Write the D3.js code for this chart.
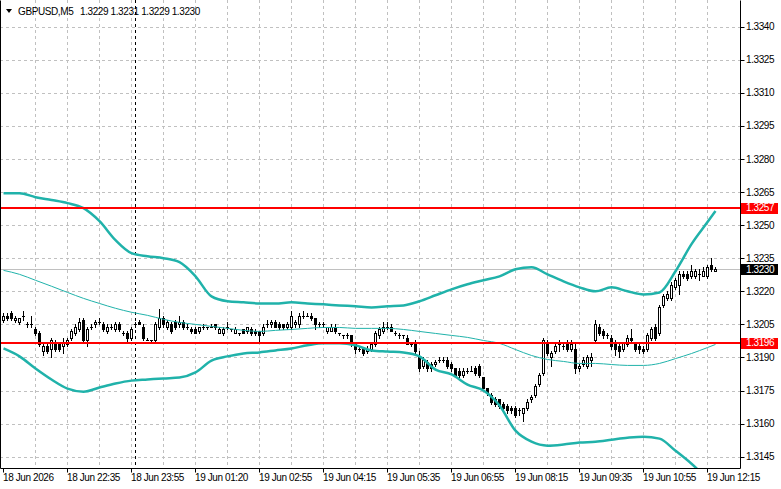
<!DOCTYPE html>
<html lang="en">
<head>
<meta charset="utf-8">
<title>GBPUSD,M5</title>
<script src="https://cdn.jsdelivr.net/npm/d3@7"></script>
<style>
  body { margin: 0; background: #fff; }
  svg text { font-family: "Liberation Sans", Arial, sans-serif; font-size: 10px; letter-spacing: -0.4px; fill: #000; }
</style>
</head>
<body>
<script>
// candles, 5 minute bars, one per index
var opens = [1.3207,1.3209,1.3210,1.3207,1.3206,1.3209,1.3205,1.3205,1.3203,1.3201,1.3193,1.3195,1.3194,1.3197,1.3196,1.3195,1.3196,1.3199,1.3201,1.3203,
  1.3207,1.3198,1.3204,1.3205,1.3206,1.3205,1.3202,1.3204,1.3203,1.3205,1.3201,1.3201,1.3199,1.3205,1.3206,1.3204,1.3198,1.3198,1.3198,1.3204,
  1.3208,1.3204,1.3205,1.3206,1.3205,1.3206,1.3204,1.3203,1.3203,1.3202,1.3204,1.3204,1.3204,1.3205,1.3201,1.3201,1.3204,1.3203,1.3201,1.3201,
  1.3203,1.3202,1.3203,1.3202,1.3202,1.3201,1.3205,1.3205,1.3206,1.3205,1.3205,1.3204,1.3204,1.3205,1.3205,1.3209,1.3209,1.3209,1.3208,1.3205,
  1.3205,1.3202,1.3202,1.3204,1.3201,1.3200,1.3200,1.3200,1.3196,1.3194,1.3194,1.3193,1.3194,1.3196,1.3200,1.3202,1.3204,1.3204,1.3201,1.3200,
  1.3200,1.3199,1.3196,1.3196,1.3190,1.3186,1.3188,1.3187,1.3187,1.3189,1.3189,1.3189,1.3187,1.3185,1.3184,1.3182,1.3184,1.3184,1.3185,1.3186,
  1.3181,1.3176,1.3173,1.3171,1.3171,1.3169,1.3168,1.3167,1.3167,1.3166,1.3165,1.3167,1.3171,1.3173,1.3178,1.3183,1.3196,1.3190,1.3193,1.3196,
  1.3195,1.3196,1.3194,1.3194,1.3185,1.3187,1.3186,1.3189,1.3198,1.3204,1.3202,1.3200,1.3199,1.3197,1.3195,1.3194,1.3196,1.3199,1.3196,1.3195,
  1.3194,1.3194,1.3199,1.3204,1.3201,1.3214,1.3217,1.3217,1.3222,1.3223,1.3228,1.3228,1.3227,1.3227,1.3228,1.3227,1.3227,1.3232,1.3229];
var highs = [1.3210,1.3210,1.3211,1.3209,1.3208,1.3211,1.3206,1.3209,1.3204,1.3202,1.3196,1.3196,1.3199,1.3198,1.3197,1.3199,1.3199,1.3203,1.3205,1.3208,
  1.3208,1.3204,1.3205,1.3207,1.3208,1.3206,1.3205,1.3205,1.3206,1.3206,1.3202,1.3202,1.3204,1.3206,1.3207,1.3205,1.3199,1.3198,1.3206,1.3212,
  1.3209,1.3207,1.3206,1.3207,1.3209,1.3207,1.3205,1.3204,1.3204,1.3204,1.3205,1.3204,1.3205,1.3205,1.3204,1.3204,1.3206,1.3203,1.3204,1.3201,
  1.3203,1.3204,1.3204,1.3203,1.3202,1.3205,1.3207,1.3207,1.3207,1.3206,1.3205,1.3206,1.3211,1.3207,1.3210,1.3211,1.3210,1.3210,1.3208,1.3206,
  1.3206,1.3204,1.3205,1.3205,1.3201,1.3200,1.3201,1.3200,1.3196,1.3195,1.3194,1.3195,1.3196,1.3202,1.3204,1.3206,1.3206,1.3205,1.3202,1.3201,
  1.3200,1.3200,1.3197,1.3198,1.3193,1.3190,1.3189,1.3188,1.3189,1.3190,1.3190,1.3190,1.3188,1.3185,1.3185,1.3185,1.3185,1.3186,1.3186,1.3187,
  1.3181,1.3176,1.3174,1.3172,1.3171,1.3170,1.3169,1.3168,1.3168,1.3167,1.3167,1.3171,1.3173,1.3178,1.3183,1.3199,1.3198,1.3193,1.3196,1.3198,
  1.3197,1.3198,1.3198,1.3196,1.3187,1.3190,1.3191,1.3192,1.3207,1.3205,1.3203,1.3201,1.3200,1.3198,1.3196,1.3197,1.3200,1.3203,1.3197,1.3196,
  1.3195,1.3201,1.3204,1.3205,1.3214,1.3219,1.3220,1.3224,1.3226,1.3229,1.3229,1.3229,1.3232,1.3230,1.3230,1.3231,1.3232,1.3235,1.3231];
var lows = [1.3206,1.3207,1.3207,1.3206,1.3205,1.3207,1.3204,1.3204,1.3200,1.3195,1.3191,1.3192,1.3190,1.3193,1.3193,1.3192,1.3195,1.3198,1.3200,1.3202,
  1.3197,1.3195,1.3203,1.3204,1.3205,1.3202,1.3201,1.3203,1.3202,1.3202,1.3200,1.3197,1.3198,1.3204,1.3205,1.3198,1.3198,1.3197,1.3197,1.3203,
  1.3204,1.3203,1.3201,1.3203,1.3204,1.3203,1.3203,1.3201,1.3201,1.3201,1.3203,1.3203,1.3204,1.3203,1.3201,1.3200,1.3203,1.3202,1.3201,1.3200,
  1.3201,1.3201,1.3200,1.3200,1.3197,1.3200,1.3204,1.3204,1.3204,1.3203,1.3203,1.3203,1.3203,1.3204,1.3204,1.3208,1.3209,1.3207,1.3203,1.3204,
  1.3204,1.3201,1.3202,1.3201,1.3200,1.3199,1.3199,1.3195,1.3192,1.3193,1.3191,1.3192,1.3193,1.3195,1.3199,1.3201,1.3203,1.3202,1.3200,1.3199,
  1.3199,1.3196,1.3195,1.3192,1.3184,1.3185,1.3184,1.3184,1.3186,1.3188,1.3188,1.3185,1.3184,1.3181,1.3181,1.3181,1.3183,1.3184,1.3182,1.3181,
  1.3176,1.3173,1.3169,1.3168,1.3167,1.3166,1.3165,1.3165,1.3163,1.3164,1.3161,1.3166,1.3170,1.3172,1.3177,1.3182,1.3191,1.3186,1.3192,1.3193,
  1.3194,1.3193,1.3193,1.3183,1.3184,1.3186,1.3185,1.3186,1.3197,1.3200,1.3199,1.3199,1.3194,1.3191,1.3190,1.3193,1.3195,1.3197,1.3193,1.3192,
  1.3192,1.3193,1.3198,1.3198,1.3200,1.3213,1.3216,1.3216,1.3221,1.3219,1.3226,1.3225,1.3226,1.3226,1.3225,1.3227,1.3226,1.3229,1.3229];
var closes = [1.3209,1.3208,1.3208,1.3208,1.3208,1.3209,1.3205,1.3205,1.3201,1.3196,1.3195,1.3193,1.3198,1.3194,1.3194,1.3197,1.3198,1.3202,1.3204,1.3206,
  1.3198,1.3203,1.3204,1.3206,1.3206,1.3203,1.3204,1.3204,1.3205,1.3203,1.3201,1.3199,1.3203,1.3205,1.3205,1.3199,1.3198,1.3198,1.3205,1.3208,
  1.3205,1.3206,1.3202,1.3204,1.3206,1.3204,1.3204,1.3202,1.3201,1.3204,1.3204,1.3204,1.3204,1.3204,1.3203,1.3203,1.3204,1.3203,1.3203,1.3201,
  1.3201,1.3204,1.3201,1.3201,1.3200,1.3204,1.3205,1.3206,1.3204,1.3204,1.3204,1.3205,1.3209,1.3206,1.3209,1.3209,1.3209,1.3208,1.3205,1.3205,
  1.3205,1.3204,1.3204,1.3202,1.3201,1.3200,1.3200,1.3196,1.3194,1.3194,1.3192,1.3194,1.3196,1.3201,1.3203,1.3204,1.3204,1.3202,1.3201,1.3200,
  1.3200,1.3196,1.3196,1.3193,1.3185,1.3189,1.3185,1.3185,1.3188,1.3189,1.3189,1.3186,1.3185,1.3182,1.3182,1.3184,1.3184,1.3184,1.3183,1.3182,
  1.3176,1.3174,1.3170,1.3169,1.3168,1.3167,1.3166,1.3166,1.3164,1.3166,1.3167,1.3170,1.3172,1.3177,1.3182,1.3198,1.3192,1.3192,1.3195,1.3196,
  1.3195,1.3194,1.3196,1.3185,1.3186,1.3189,1.3190,1.3190,1.3205,1.3201,1.3200,1.3200,1.3195,1.3194,1.3193,1.3197,1.3199,1.3198,1.3194,1.3194,
  1.3193,1.3200,1.3203,1.3199,1.3213,1.3218,1.3219,1.3223,1.3225,1.3228,1.3227,1.3226,1.3229,1.3229,1.3228,1.3229,1.3231,1.3230,1.3230];

// bollinger bands read every 4 bars
var bandIdx = [0,4,8,12,16,20,24,28,32,36,40,44,48,52,56,60,64,68,72,76,80,84,88,92,96,100,104,108,112,116,120,124,128,132,136,140,144,148,152,156,160,164,168,172,176,178];
var bandUpper = [1.32645,1.32645,1.32627,1.32614,1.3260,1.32577,1.32518,1.32432,1.32373,1.32359,1.3235,1.32332,1.32268,1.32177,1.32155,1.3215,1.32145,1.32145,1.3215,1.32145,
  1.32141,1.32136,1.32132,1.32127,1.32132,1.32136,1.32155,1.32182,1.32209,1.32232,1.3225,1.32268,1.3230,1.32309,1.32277,1.32245,1.32218,1.3220,1.32218,1.3220,
  1.32186,1.32195,1.32291,1.32414,1.32514,1.32564];
var bandMiddle = [1.32295,1.32277,1.3225,1.32223,1.32195,1.32168,1.32145,1.32123,1.32105,1.32091,1.32073,1.32059,1.3205,1.32041,1.32032,1.32023,1.32018,1.32023,1.32027,1.32032,
  1.32036,1.32036,1.32032,1.32032,1.32032,1.32027,1.32018,1.32009,1.3200,1.31991,1.31977,1.31964,1.31936,1.31909,1.31891,1.31882,1.31873,1.31873,1.31868,1.31864,
  1.31864,1.31873,1.31895,1.31918,1.31945,1.31959];
var bandLower = [1.31941,1.31905,1.3185,1.3180,1.31759,1.31745,1.31764,1.31782,1.31795,1.3180,1.31805,1.31809,1.31832,1.31886,1.31905,1.31918,1.31923,1.31932,1.31941,1.31955,
  1.31964,1.31964,1.31955,1.31932,1.31927,1.31923,1.31905,1.31845,1.31823,1.31777,1.3175,1.31682,1.31568,1.31518,1.315,1.31505,1.31514,1.31518,1.31527,1.31536,
  1.31541,1.31532,1.31477,1.31418,1.3135,1.31318];

var levelValues = [1.32578, 1.31967];
var levelLabels = ["1.3257", "1.3196"];
var bidValue = 1.3230;
var bidLabel = "1.3230";
var separatorIdx = 33;

var xTickIdx = [0,16,32,48,64,80,96,112,128,144,160,176];
var xTickLabels = ["18 Jun 2026","18 Jun 22:35","18 Jun 23:55","19 Jun 01:20","19 Jun 02:55","19 Jun 04:15",
  "19 Jun 05:35","19 Jun 06:55","19 Jun 08:15","19 Jun 09:35","19 Jun 10:55","19 Jun 12:15"];
var yTicks = [1.3340,1.3325,1.3310,1.3295,1.3280,1.3265,1.3250,1.3235,1.3220,1.3205,1.3190,1.3175,1.3160,1.3145];

var w = 781, h = 489;
var plotR = 740.5, plotB = 468.5;
var bandColor = "#20b2aa";

var svg = d3.select("body").append("svg")
  .attr("width", w)
  .attr("height", h);

var xScale = d3.scaleLinear().domain([0, 178]).range([3, 715]);
var yScale = d3.scaleLinear().domain([1.3145, 1.3340]).range([456.7, 26.7]);

svg.append("clipPath").attr("id", "plot")
  .append("rect").attr("x", 0).attr("y", 0).attr("width", plotR).attr("height", plotB);

var plot = svg.append("g").attr("clip-path", "url(#plot)");

// grid
plot.append("g").selectAll("line")
  .data(yTicks).enter().append("line")
  .attr("x1", 0).attr("x2", plotR)
  .attr("y1", function(d) { return Math.round(yScale(d)) + 0.5; })
  .attr("y2", function(d) { return Math.round(yScale(d)) + 0.5; })
  .attr("stroke", "#c0c0c0").attr("stroke-dasharray", "3,3");
plot.append("g").selectAll("line")
  .data(d3.range(8, 179, 8)).enter().append("line")
  .attr("x1", function(d) { return xScale(d) + 0.5; })
  .attr("x2", function(d) { return xScale(d) + 0.5; })
  .attr("y1", 0).attr("y2", plotB)
  .attr("stroke", "#c0c0c0").attr("stroke-dasharray", "3,3");

// day separator
plot.append("line")
  .attr("x1", xScale(separatorIdx) + 0.5).attr("x2", xScale(separatorIdx) + 0.5)
  .attr("y1", 0).attr("y2", plotB)
  .attr("stroke", "#000").attr("stroke-dasharray", "3,3");

// bid line
plot.append("line")
  .attr("x1", 0).attr("x2", plotR)
  .attr("y1", Math.round(yScale(bidValue)) + 0.5).attr("y2", Math.round(yScale(bidValue)) + 0.5)
  .attr("stroke", "#c0c0c0");

// candles
var bars = plot.append("g").attr("shape-rendering", "crispEdges");
var idx = d3.range(opens.length);
bars.selectAll("line.wick")
  .data(idx).enter().append("line")
  .attr("class", "wick")
  .attr("x1", function(i) { return xScale(i) + 0.5; })
  .attr("x2", function(i) { return xScale(i) + 0.5; })
  .attr("y1", function(i) { return yScale(highs[i]); })
  .attr("y2", function(i) { return yScale(lows[i]) + 1; })
  .attr("stroke", "#000");
bars.selectAll("rect")
  .data(idx.filter(function(i) { return opens[i] != closes[i]; }))
  .enter().append("rect")
  .attr("x", function(i) { return xScale(i) - 0.5; })
  .attr("y", function(i) { return yScale(Math.max(opens[i], closes[i])) + 0.5; })
  .attr("width", 2)
  .attr("height", function(i) { return Math.abs(yScale(opens[i]) - yScale(closes[i])); })
  .attr("fill", function(i) { return closes[i] > opens[i] ? "#fff" : "#000"; })
  .attr("stroke", "#000");
bars.selectAll("line.doji")
  .data(idx.filter(function(i) { return opens[i] == closes[i]; }))
  .enter().append("line")
  .attr("class", "doji")
  .attr("x1", function(i) { return xScale(i) - 1; })
  .attr("x2", function(i) { return xScale(i) + 2; })
  .attr("y1", function(i) { return Math.round(yScale(opens[i])) + 0.5; })
  .attr("y2", function(i) { return Math.round(yScale(opens[i])) + 0.5; })
  .attr("stroke", "#000");

// bollinger bands
function bandLine(vals) {
  return d3.line()
    .x(function(d, k) { return xScale(bandIdx[k]) + 0.5; })
    .y(function(d) { return yScale(d); })
    .curve(d3.curveMonotoneX)(vals);
}
plot.append("path").attr("d", bandLine(bandMiddle))
  .attr("fill", "none").attr("stroke", bandColor).attr("stroke-width", 1);
plot.append("path").attr("d", bandLine(bandUpper))
  .attr("fill", "none").attr("stroke", bandColor).attr("stroke-width", 2.5);
plot.append("path").attr("d", bandLine(bandLower))
  .attr("fill", "none").attr("stroke", bandColor).attr("stroke-width", 2.5);

// horizontal levels
plot.selectAll("line.level")
  .data(levelValues).enter().append("line")
  .attr("class", "level")
  .attr("x1", 0).attr("x2", plotR)
  .attr("y1", function(d) { return Math.round(yScale(d)); })
  .attr("y2", function(d) { return Math.round(yScale(d)); })
  .attr("stroke", "#ff0000").attr("stroke-width", 2);

// frame
svg.append("path")
  .attr("d", "M0.5,0.5V" + plotB + "H" + plotR + "V0.5")
  .attr("fill", "none").attr("stroke", "#000");

// y axis labels
var yAxis = svg.append("g");
yAxis.selectAll("line")
  .data(yTicks).enter().append("line")
  .attr("x1", plotR).attr("x2", plotR + 4)
  .attr("y1", function(d) { return Math.round(yScale(d)) + 0.5; })
  .attr("y2", function(d) { return Math.round(yScale(d)) + 0.5; })
  .attr("stroke", "#000");
yAxis.selectAll("text")
  .data(yTicks).enter().append("text")
  .attr("x", 746)
  .attr("y", function(d) { return yScale(d); })
  .attr("dy", "0.35em")
  .text(function(d) { return d3.format(".4f")(d); });

// price tags
function priceTag(v, label, bg) {
  var y = yScale(v);
  svg.append("rect").attr("x", 741).attr("y", Math.round(y) - 5).attr("width", 37).attr("height", 11).attr("fill", bg);
  svg.append("text").attr("x", 746).attr("y", y).attr("dy", "0.35em").style("fill", "#fff").text(label);
}
levelValues.forEach(function(v, k) { priceTag(v, levelLabels[k], "#ff0000"); });
priceTag(bidValue, bidLabel, "#000");

// x axis labels
var xAxis = svg.append("g");
xAxis.selectAll("line")
  .data(xTickIdx).enter().append("line")
  .attr("x1", function(i) { return xScale(i) + 0.5; })
  .attr("x2", function(i) { return xScale(i) + 0.5; })
  .attr("y1", plotB).attr("y2", plotB + 4)
  .attr("stroke", "#000");
xAxis.selectAll("text")
  .data(xTickIdx).enter().append("text")
  .attr("x", function(i) { return xScale(i); })
  .attr("y", 477)
  .attr("dy", "0.35em")
  .text(function(i, k) { return xTickLabels[k]; });

// title
svg.append("path").attr("d", "M6,9H12L9,13Z").attr("fill", "#000");
svg.append("text").attr("x", 18).attr("y", 11).attr("dy", "0.35em").text("GBPUSD,M5");
svg.append("text").attr("x", 80).attr("y", 11).attr("dy", "0.35em").text("1.3229 1.3231 1.3229 1.3230");
</script>
</body>
</html>
